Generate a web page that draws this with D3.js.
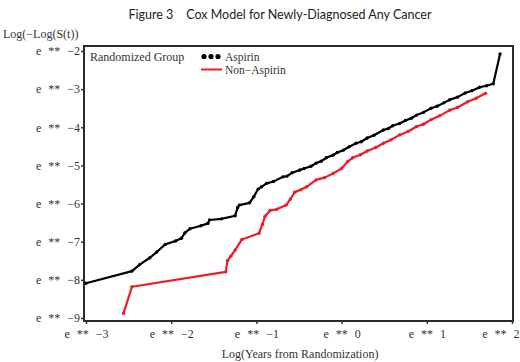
<!DOCTYPE html>
<html><head><meta charset="utf-8">
<script src="https://cdn.jsdelivr.net/npm/d3@7/dist/d3.min.js"></script>
<style>body{margin:0;background:#fff}svg{display:block}</style>
</head><body><svg id="c" width="520" height="362"></svg>
<script>
const title = "Figure 3    Cox Model for Newly-Diagnosed Any Cancer";
const yTitle = "Log(\u2212Log(S(t))";
const xTitle = "Log(Years from Randomization)";
const legendTitle = "Randomized Group";
const seriesNames = ["Aspirin", "Non\u2212Aspirin"];
const xTicks = [-3, -2, -1, 0, 1, 2];
const yTicks = [-2, -3, -4, -5, -6, -7, -8, -9];
const aspirinX = [-3.0,-2.46,-2.37,-2.25,-2.17,-2.07,-1.95,-1.88,-1.84,-1.78,-1.65,-1.57,-1.55,-1.41,-1.25,-1.22,-1.20,-1.08,-1.03,-0.98,-0.94,-0.88,-0.80,-0.69,-0.64,-0.58,-0.49,-0.44,-0.36,-0.30,-0.24,-0.18,-0.10,-0.05,0.02,0.09,0.17,0.23,0.30,0.38,0.49,0.55,0.60,0.68,0.75,0.82,0.88,0.96,1.05,1.12,1.20,1.27,1.36,1.45,1.53,1.62,1.70,1.78,1.86];
const aspirinY = [-8.09,-7.77,-7.60,-7.42,-7.27,-7.07,-6.98,-6.91,-6.77,-6.66,-6.58,-6.52,-6.43,-6.40,-6.32,-6.10,-6.04,-5.98,-5.82,-5.62,-5.56,-5.47,-5.42,-5.30,-5.28,-5.19,-5.12,-5.08,-5.02,-4.94,-4.89,-4.80,-4.73,-4.66,-4.60,-4.51,-4.42,-4.38,-4.28,-4.21,-4.07,-4.03,-3.96,-3.90,-3.82,-3.76,-3.68,-3.61,-3.50,-3.45,-3.36,-3.28,-3.21,-3.10,-3.04,-2.95,-2.91,-2.86,-2.08];
const nonAspirinX = [-2.56,-2.46,-1.36,-1.34,-1.30,-1.25,-1.17,-0.97,-0.93,-0.90,-0.84,-0.76,-0.65,-0.60,-0.55,-0.48,-0.41,-0.30,-0.20,-0.10,0.00,0.07,0.13,0.22,0.30,0.40,0.49,0.58,0.68,0.78,0.88,0.96,1.05,1.15,1.27,1.36,1.48,1.58,1.69];
const nonAspirinY = [-8.88,-8.18,-7.79,-7.50,-7.38,-7.22,-6.94,-6.78,-6.55,-6.34,-6.18,-6.15,-6.04,-5.88,-5.70,-5.64,-5.56,-5.38,-5.32,-5.21,-5.08,-4.90,-4.80,-4.72,-4.62,-4.53,-4.42,-4.33,-4.20,-4.11,-3.98,-3.92,-3.80,-3.70,-3.55,-3.48,-3.33,-3.24,-3.11];
const colors = ["#000000", "#ee1c25"];

const svg = d3.select("#c");
svg.append("rect").attr("width",520).attr("height",362).attr("fill","#fff");
const x = d3.scaleLinear().domain([-3,2]).range([86,512]);
const y = d3.scaleLinear().domain([-9,-2]).range([318,51]);
const serif = "'Liberation Serif', 'DejaVu Serif', serif";

svg.append("text").attr("x",280).attr("y",19).attr("text-anchor","middle")
  .attr("font-family","Lato, 'Open Sans', sans-serif").attr("font-size",12.5).attr("fill","#222")
  .style("white-space","pre").text(title);

// frame
svg.append("rect").attr("x",84).attr("y",46).attr("width",429).attr("height",275)
  .attr("fill","none").attr("stroke","#2a2a2a").attr("stroke-width",2);

const fmt = d => "e ** " + (d<0 ? "\u2212"+(-d) : d);
const yAxis = svg.append("g").attr("transform","translate(84,0)")
  .call(d3.axisLeft(y).tickValues(yTicks).tickSize(3).tickPadding(1).tickFormat(fmt));
const xAxis = svg.append("g").attr("transform","translate(0,321)")
  .call(d3.axisBottom(x).tickValues(xTicks).tickSize(3).tickPadding(5).tickFormat(fmt));
[yAxis, xAxis].forEach(a => {
  a.select(".domain").remove();
  a.selectAll("line").attr("stroke","#333").attr("stroke-width",1.5);
  a.selectAll("text").attr("font-family",serif).attr("font-size",12).attr("fill","#333")
    .attr("word-spacing","4px");
});
// last x label sits against the page edge
xAxis.selectAll(".tick text").filter(d => d === 2).attr("text-anchor","end").attr("dx", 7);

svg.append("text").attr("x",3).attr("y",38).attr("font-family",serif).attr("font-size",12)
  .attr("fill","#333").text(yTitle);
svg.append("text").attr("x",300).attr("y",358).attr("text-anchor","middle").attr("font-family",serif)
  .attr("font-size",12).attr("fill","#333").text(xTitle);

const series = [
  {name: seriesNames[0], xs: aspirinX, ys: aspirinY, color: colors[0]},
  {name: seriesNames[1], xs: nonAspirinX, ys: nonAspirinY, color: colors[1]}
];
const line = d3.line().x(d => x(d[0])).y(d => y(d[1]));
series.forEach(s => {
  const pts = s.xs.map((v,i) => [v, s.ys[i]]);
  svg.append("path").datum(pts).attr("d", line).attr("fill","none")
    .attr("stroke", s.color).attr("stroke-width", 2.2).attr("stroke-linejoin","round");
  svg.append("g").selectAll("circle").data(pts).join("circle")
    .attr("cx", d => x(d[0])).attr("cy", d => y(d[1])).attr("r", 1.7).attr("fill", s.color);
});

// legend
svg.append("text").attr("x",90).attr("y",61).attr("font-family",serif).attr("font-size",12)
  .attr("fill","#333").text(legendTitle);
const lg = svg.append("g");
lg.selectAll("circle.a").data([204,211,218]).join("circle").attr("cx",d=>d).attr("cy",56.5)
  .attr("r",2.6).attr("fill",colors[0]);
lg.append("line").attr("x1",201).attr("x2",222).attr("y1",69.5).attr("y2",69.5)
  .attr("stroke",colors[1]).attr("stroke-width",2);
lg.append("text").attr("x",225).attr("y",60.5).attr("font-family",serif).attr("font-size",11.5)
  .attr("fill","#333").text(seriesNames[0]);
lg.append("text").attr("x",225).attr("y",74).attr("font-family",serif).attr("font-size",11.5)
  .attr("fill","#333").text(seriesNames[1]);
</script></body></html>
